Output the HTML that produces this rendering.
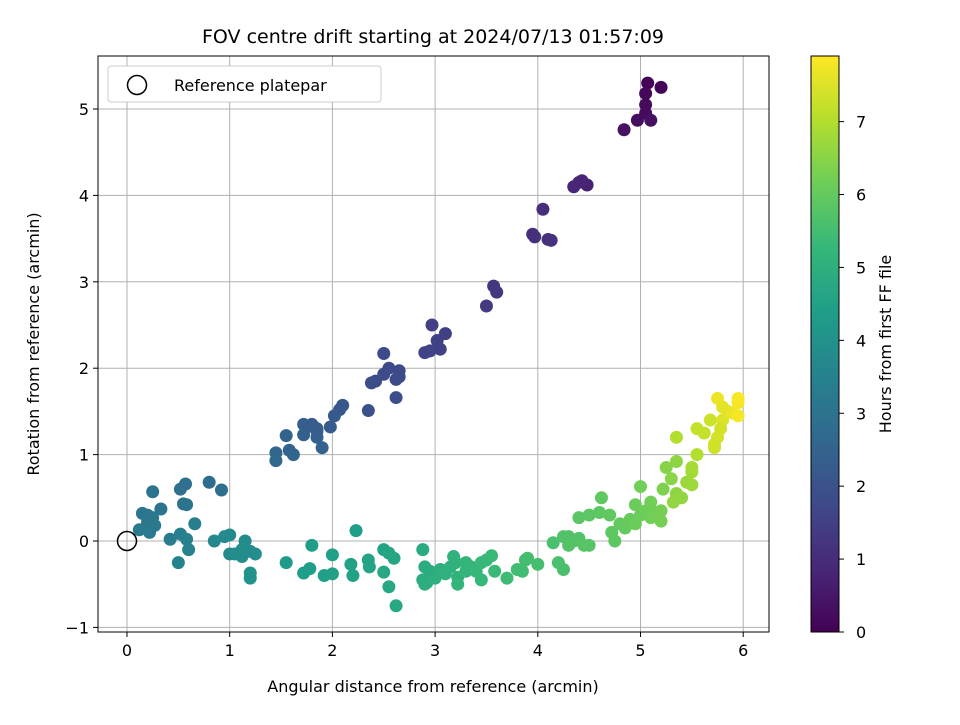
<!DOCTYPE html>
<html><head><meta charset="utf-8"><style>body{margin:0;background:#fff}svg text{font-family:"DejaVu Sans","Liberation Sans",sans-serif}</style></head>
<body>
<svg id="chart" width="960" height="720" xmlns="http://www.w3.org/2000/svg"></svg>
<script>
const xs=[5.07,5.2,5.05,5.05,4.97,5.05,5.1,4.84, 4.4,4.35,4.48,4.43, 4.05,3.95,3.97,4.1,4.13, 3.57,3.6,3.5, 2.97,3.1,3.02,3.05,2.9,2.95, 2.5,2.55,2.65,2.5,2.42,2.38,2.62,2.65,2.62,2.35, 2.1,2.07,2.02,1.98,1.85,1.8,1.72,1.78,1.85,1.72,1.9,1.55,1.58,1.62,1.45,1.45,1.85,
0.15,0.2,0.25,0.33,0.2,0.25,0.22,0.12,0.27,0.42,0.52,0.57,0.55,0.58,0.66,0.52,0.58,0.6,0.5,0.8,0.92,
0.85,0.95,1.0,1.0,1.05,1.12,1.15,1.2,1.25,1.2,1.2,1.12,
1.55,1.72,1.78,1.8,1.92,2.0,2.0,2.18,2.2,2.23,2.35,2.36,2.5,2.55,2.6,2.5,2.55,2.62,
2.88,2.9,2.95,2.88,2.92,2.9,3.0,3.05,3.1,3.15,3.18,3.2,3.22,3.22,3.3,3.3,3.35,3.4,3.45,3.5,3.45,3.55,3.58,3.7,3.8,3.85,3.88,3.9,4.0,4.15,4.2,4.25,
4.25,4.3,4.35,4.4,4.45,4.5,4.3,4.4,4.5,4.6,4.62,4.7,4.72,4.75,4.8,4.85,4.9,4.95,5.0,5.0,5.05,5.1,5.15,5.2,5.2,5.1,4.95,
5.22,5.25,5.3,5.35,5.35,5.4,5.32,5.45,5.5,5.5,5.5,5.35,5.55,5.55,5.62,5.68,5.72,5.75,5.75,5.8,5.8,5.85,5.9,5.95,5.95,5.95,5.78,5.72];
const ys=[5.3,5.25,5.18,5.05,4.87,4.95,4.87,4.76, 4.15,4.1,4.12,4.17, 3.84,3.55,3.52,3.49,3.48, 2.95,2.88,2.72, 2.5,2.4,2.32,2.22,2.18,2.2, 2.17,2.0,1.97,1.93,1.85,1.83,1.87,1.9,1.66,1.51, 1.57,1.52,1.45,1.32,1.27,1.35,1.35,1.33,1.2,1.23,1.08,1.22,1.05,1.0,1.02,0.93,1.3,
0.32,0.3,0.57,0.37,0.22,0.27,0.1,0.13,0.18,0.02,0.6,0.66,0.43,0.42,0.2,0.08,0.02,-0.1,-0.25,0.68,0.59,
0.0,0.05,0.07,-0.15,-0.15,-0.18,0.0,-0.12,-0.15,-0.37,-0.43,-0.1,
-0.25,-0.37,-0.32,-0.05,-0.4,-0.16,-0.38,-0.27,-0.4,0.12,-0.22,-0.3,-0.1,-0.14,-0.2,-0.36,-0.53,-0.75,
-0.1,-0.3,-0.35,-0.45,-0.48,-0.5,-0.43,-0.33,-0.38,-0.3,-0.18,-0.25,-0.42,-0.5,-0.35,-0.25,-0.3,-0.35,-0.45,-0.22,-0.25,-0.17,-0.35,-0.43,-0.33,-0.35,-0.22,-0.2,-0.27,-0.02,-0.25,-0.33,
0.05,0.05,0.0,0.03,-0.05,-0.05,-0.05,0.27,0.3,0.33,0.5,0.3,0.1,0.0,0.2,0.15,0.25,0.42,0.63,0.3,0.35,0.45,0.33,0.35,0.23,0.27,0.2,
0.6,0.85,0.72,0.92,0.55,0.5,0.45,0.68,0.65,0.8,0.85,1.2,1.0,1.3,1.25,1.4,1.08,1.2,1.65,1.55,1.4,1.5,1.48,1.45,1.6,1.65,1.3,1.12];
const ts=[0.05,0.1,0.15,0.2,0.3,0.25,0.35,0.4, 0.8,0.85,0.75,0.8, 1.0,1.05,1.05,1.1,1.1, 1.3,1.3,1.35, 1.5,1.5,1.55,1.55,1.6,1.6, 1.75,1.75,1.75,1.8,1.8,1.85,1.8,1.8,1.9,1.95, 2.1,2.15,2.2,2.25,2.3,2.3,2.35,2.35,2.4,2.4,2.45,2.5,2.55,2.55,2.6,2.65,2.3,
3.1,3.1,3.05,3.0,3.15,3.15,3.2,3.2,3.2,3.3,2.9,2.9,3.0,3.0,3.4,3.4,3.45,3.5,3.5,2.8,2.85,
3.7,3.75,3.75,3.8,3.85,3.85,3.8,3.9,3.9,4.0,4.0,3.85,
4.3,4.4,4.4,4.35,4.45,4.45,4.5,4.5,4.55,4.4,4.6,4.6,4.6,4.65,4.65,4.7,4.7,4.75,
4.8,4.85,4.85,4.9,4.9,4.95,5.0,5.0,5.05,5.05,5.1,5.1,5.1,5.15,5.15,5.2,5.2,5.25,5.25,5.3,5.3,5.35,5.35,5.4,5.45,5.45,5.5,5.5,5.55,5.6,5.6,5.6,
5.7,5.7,5.75,5.75,5.8,5.8,5.75,5.85,5.85,5.9,5.95,5.95,5.9,5.9,6.0,6.0,6.05,6.1,6.2,6.1,6.15,6.2,6.2,6.25,6.25,6.2,6.1,
6.35,6.45,6.5,6.55,6.55,6.6,6.6,6.7,6.75,6.8,6.85,7.0,7.0,7.2,7.2,7.3,7.3,7.4,7.7,7.6,7.5,7.6,7.7,7.8,7.8,7.85,7.4,7.35];
const xTicks=[0,1,2,3,4,5,6], yTicks=[-1,0,1,2,3,4,5], cTicks=[0,1,2,3,4,5,6,7];
const X0=98,X1=769,Y0=56,Y1=632;
const sx=v=>127+v*102.7, sy=v=>541-v*86.4;
const CMAX=7.9, cy=v=>632-v/CMAX*576;
const vir=[[68,1,84],[72,40,120],[62,74,137],[49,104,142],[38,130,142],[31,158,137],[53,183,121],[109,205,89],[180,222,44],[253,231,37]];
function col(t){let f=Math.max(0,Math.min(1,t/CMAX))*9,i=Math.min(8,Math.floor(f)),r=f-i;const a=vir[i],b=vir[i+1];return`rgb(${a.map((c,k)=>Math.round(c+(b[k]-c)*r)).join(',')})`;}
const svg=document.getElementById('chart');const NS='http://www.w3.org/2000/svg';
function el(tag,attrs,parent){const e=document.createElementNS(NS,tag);for(const k in attrs)e.setAttribute(k,attrs[k]);(parent||svg).appendChild(e);return e;}
function txt(s,attrs,name){const e=el('text',attrs);e.textContent=s;return e;}
// grid
xTicks.forEach(v=>{const g=el('line',{x1:sx(v),x2:sx(v),y1:Y0,y2:Y1,stroke:'#b0b0b0','stroke-width':1});});
yTicks.forEach(v=>{const g=el('line',{x1:X0,x2:X1,y1:sy(v),y2:sy(v),stroke:'#b0b0b0','stroke-width':1});});
// points
xs.forEach((x,i)=>{const c=el('circle',{cx:sx(x),cy:sy(ys[i]),r:6.5,fill:col(ts[i])});});
// reference marker
const rm=el('circle',{cx:sx(0),cy:sy(0),r:9.5,fill:'none',stroke:'#000','stroke-width':1.5});

// frame
const fr=el('rect',{x:X0,y:Y0,width:X1-X0,height:Y1-Y0,fill:'none',stroke:'#000','stroke-width':1});

xTicks.forEach(v=>{const l=el('line',{x1:sx(v),x2:sx(v),y1:Y1,y2:Y1+5,stroke:'#000'});txt(String(v),{x:sx(v),y:Y1+24,'text-anchor':'middle','font-size':16},'x-tick-label');});
yTicks.forEach(v=>{const l=el('line',{x1:X0-5,x2:X0,y1:sy(v),y2:sy(v),stroke:'#000'});txt(v<0?'\u2212'+(-v):String(v),{x:X0-9,y:sy(v)+6,'text-anchor':'end','font-size':16},'y-tick-label');});
txt('FOV centre drift starting at 2024/07/13 01:57:09',{x:433,y:43,'text-anchor':'middle','font-size':19},'chart-title');
txt('Angular distance from reference (arcmin)',{x:433,y:692,'text-anchor':'middle','font-size':16},'x-axis-title');
txt('Rotation from reference (arcmin)',{x:39,y:344,'text-anchor':'middle','font-size':16,transform:'rotate(-90 39 344)'},'y-axis-title');
// legend
const lg=el('rect',{x:108,y:66,width:273,height:36,rx:3,fill:'#fff',stroke:'#ccc'});

const lm=el('circle',{cx:137,cy:85,r:9.5,fill:'none',stroke:'#000','stroke-width':1.5});

txt('Reference platepar',{x:174,y:91,'font-size':16},'legend-label');
// colorbar
const defs=el('defs',{});const gr=el('linearGradient',{id:'vg',x1:0,y1:1,x2:0,y2:0},defs);
vir.forEach((c,i)=>el('stop',{offset:i/9,'stop-color':`rgb(${c.join(',')})`},gr));
const cb=el('rect',{x:811,y:56,width:28,height:576,fill:'url(#vg)',stroke:'#000','stroke-width':1});

cTicks.forEach(v=>{const l=el('line',{x1:839,x2:844,y1:cy(v),y2:cy(v),stroke:'#000'});txt(String(v),{x:856,y:cy(v)+6,'font-size':16},'colorbar-tick-label');});
txt('Hours from first FF file',{x:891,y:344,'text-anchor':'middle','font-size':16,transform:'rotate(-90 891 344)'},'colorbar-title');
</script>
</body></html>
